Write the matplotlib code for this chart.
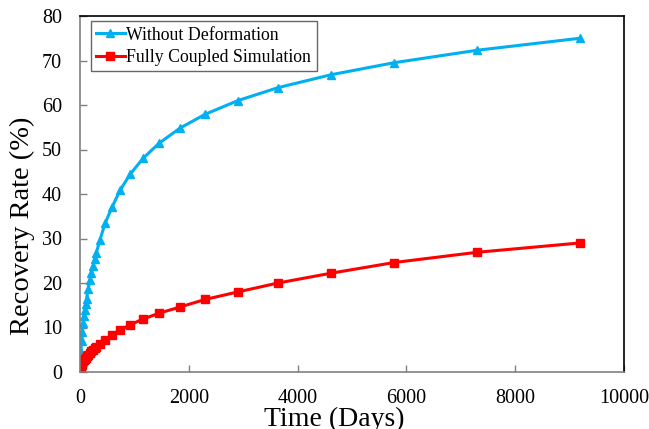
import matplotlib
matplotlib.use("Agg")
import matplotlib.pyplot as plt

days = [0, 15, 30, 45, 60, 75, 90, 105, 120, 150, 180, 210, 240, 270, 300, 365,
        460, 588, 735, 919, 1158, 1452, 1838, 2298, 2904, 3640, 4614, 5772, 7298, 9191]
without_def = [0, 4.5, 7.0, 9.0, 11.0, 12.5, 14.0, 15.3, 16.5, 18.6, 20.6, 22.2, 23.8,
               25.3, 26.8, 29.6, 33.4, 37.0, 40.8, 44.4, 48.0, 51.4, 54.8, 57.9, 61.0,
               63.9, 66.8, 69.5, 72.3, 75.0]
fully_coupled = [0, 1.0, 1.6, 2.0, 2.4, 2.7, 3.0, 3.25, 3.5, 3.9, 4.3, 4.65, 5.0, 5.35,
                 5.7, 6.4, 7.3, 8.3, 9.4, 10.6, 11.9, 13.2, 14.6, 16.3, 18.0, 20.0,
                 22.2, 24.6, 26.9, 29.0]

plt.rcParams['font.family'] = ['Liberation Serif', 'DejaVu Serif']

fig = plt.figure(figsize=(6.49, 4.29), dpi=100)
ax = fig.add_axes([80/649, 1-372/429, 544/649, 356/429])

ax.plot(days, without_def, color='#00B0F0', lw=2.2, marker='^', ms=6,
        label='Without Deformation')
ax.plot(days, fully_coupled, color='#FF0000', lw=2.2, marker='s', ms=6,
        label='Fully Coupled Simulation')

ax.set_xlim(0, 10000)
ax.set_ylim(0, 80)
ax.set_xticks(range(0, 10001, 2000))
ax.set_yticks(range(0, 81, 10))
ax.tick_params(direction='in', colors='#808080', labelcolor='black', labelsize=14.5,
               length=5, width=1)
ax.tick_params(axis='x', pad=12)
ax.tick_params(axis='y', pad=13)
for s in ['left', 'bottom']:
    ax.spines[s].set_color('#808080')
    ax.spines[s].set_linewidth(1.2)
for s in ['top', 'right']:
    ax.spines[s].set_color('black')
    ax.spines[s].set_linewidth(1.2)

ax.set_xlabel('Time (Days)', fontsize=20)
ax.xaxis.label.set_va('top')
ax.xaxis.set_label_coords(0.467, -0.097)
ax.set_ylabel('Recovery Rate (%)', fontsize=20.5)
ax.yaxis.label.set_va('center')
ax.yaxis.set_label_coords(-0.106, 0.41)

leg = ax.legend(loc='upper left', fontsize=12.8, frameon=True, fancybox=False,
                edgecolor='#404040', handlelength=1.6, handletextpad=0.1,
                borderpad=0.3, labelspacing=0.3, bbox_to_anchor=(0.02, 0.985),
                borderaxespad=0)
leg.get_frame().set_linewidth(1.0)

fig.savefig('out.png', dpi=100)
